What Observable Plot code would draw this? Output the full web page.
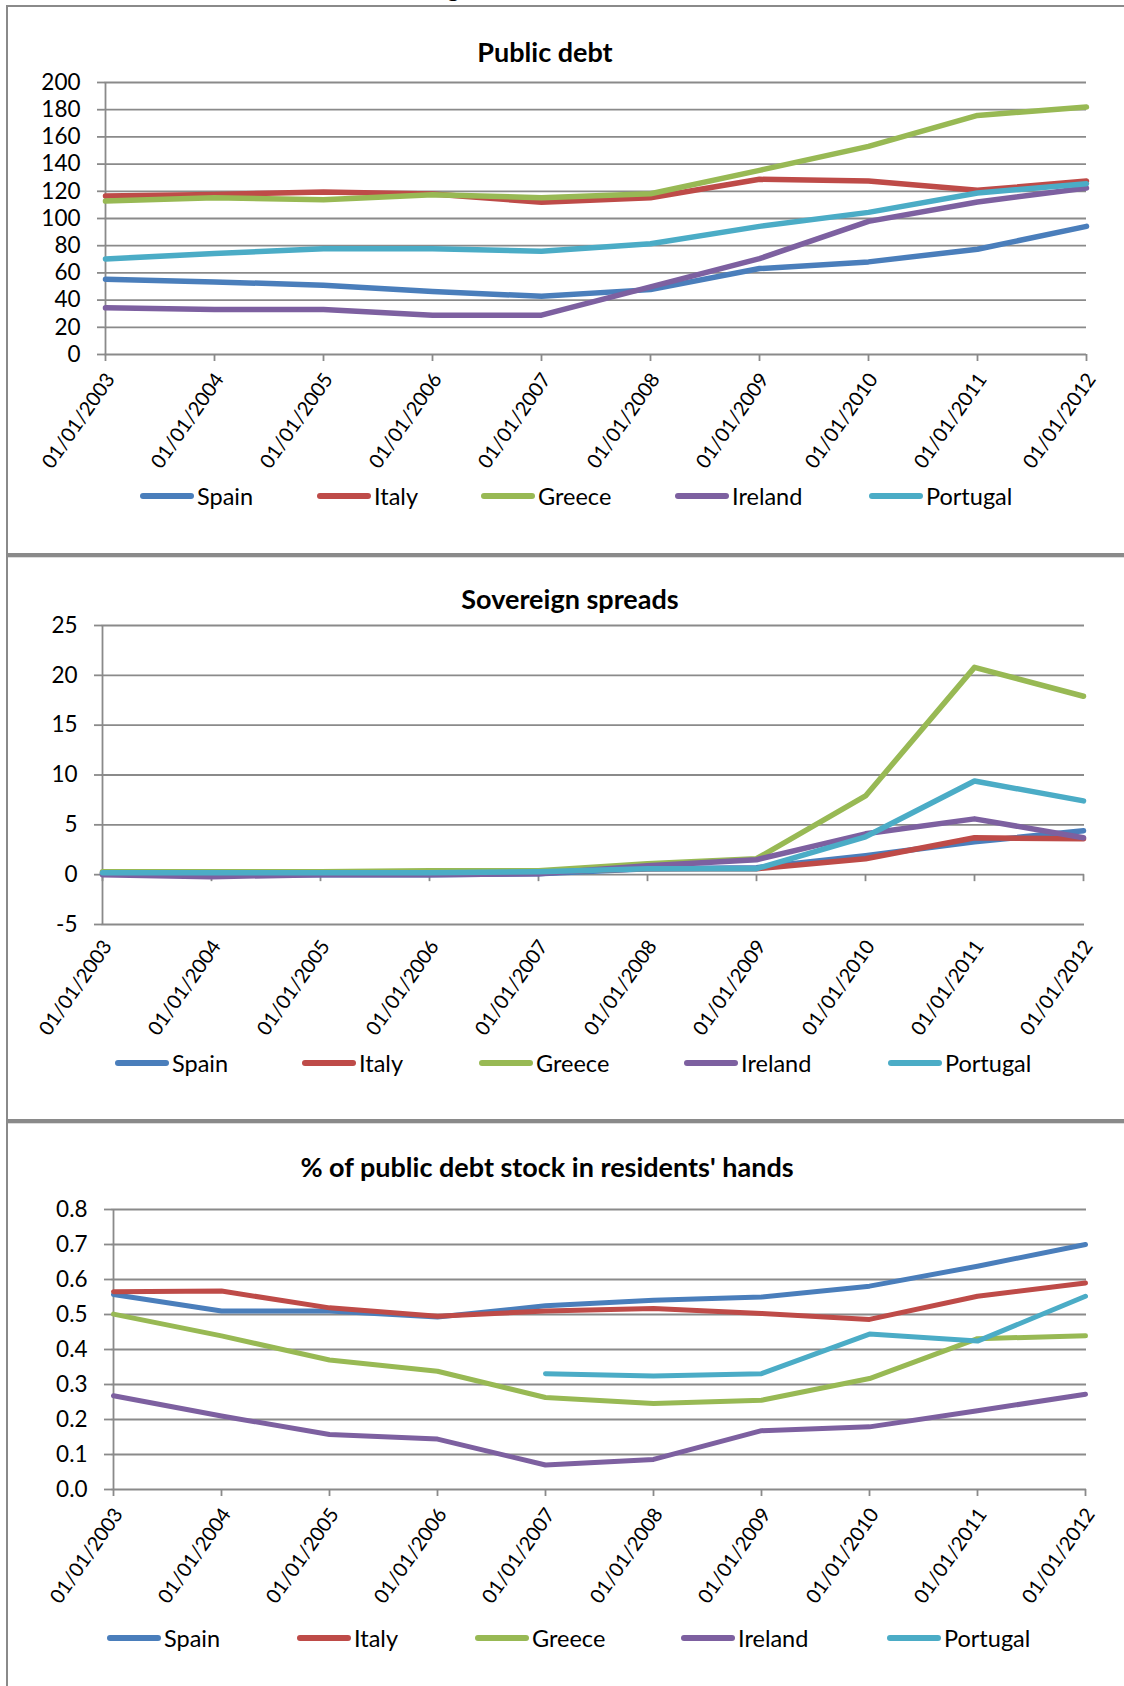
<!DOCTYPE html>
<html><head><meta charset="utf-8">
<script src="https://cdn.jsdelivr.net/npm/d3@7"></script>
<script src="https://cdn.jsdelivr.net/npm/@observablehq/plot@0.6"></script>
<style>
html,body{margin:0;padding:0;background:#fff;overflow:hidden;}
#page{position:relative;width:1124px;height:1686px;font-family:Lato,"Open Sans",sans-serif;overflow:hidden;}
.title{position:absolute;transform:translate(-50%,-50%);font-weight:700;font-size:27px;white-space:nowrap;color:#000;}
.legend-item{position:absolute;display:flex;align-items:center;transform:translateY(-50%);font-size:23.5px;color:#000;white-space:nowrap;}
.swatch{display:inline-block;width:54px;height:6px;border-radius:3px;margin-right:3px;}
.bar{position:absolute;background:#8a8a8a;}
.bar2{position:absolute;background:#dcdcdc;}
svg{position:absolute;left:0;}
</style></head><body><div id="page"></div>
<script>
const dates = ["01/01/2003","01/01/2004","01/01/2005","01/01/2006","01/01/2007","01/01/2008","01/01/2009","01/01/2010","01/01/2011","01/01/2012"];
const countries = ["Spain","Italy","Greece","Ireland","Portugal"];
const colors = ["#4A7EBB","#BE4B48","#98B954","#7D60A0","#4BACC6"];

// Public debt
const spainDebt    = [55.3, 53.4, 50.9, 46.3, 42.8, 47.7, 63.2, 68.1, 77.4, 94.2];
const italyDebt    = [116.5, 117.7, 119.5, 118.0, 112.0, 115.3, 128.8, 127.5, 120.7, 127.5];
const greeceDebt   = [112.8, 115.3, 113.8, 117.5, 115.3, 118.2, 135.4, 153.0, 175.8, 181.9];
const irelandDebt  = [34.3, 33.0, 33.0, 28.9, 28.9, 49.7, 70.5, 97.9, 112.1, 122.4];
const portugalDebt = [70.3, 74.2, 77.8, 77.8, 75.9, 81.5, 94.2, 104.5, 118.7, 125.6];
const debtTicks = [0,20,40,60,80,100,120,140,160,180,200];

// Sovereign spreads
const spainSpread    = [0.1, 0.0, 0.0, 0.0, 0.1, 0.6, 0.7, 1.9, 3.3, 4.4];
const italySpread    = [0.2, 0.2, 0.2, 0.2, 0.3, 0.6, 0.6, 1.6, 3.7, 3.6];
const greeceSpread   = [0.3, 0.3, 0.3, 0.4, 0.4, 1.1, 1.6, 7.9, 20.8, 17.9];
const irelandSpread  = [0.0, -0.2, 0.0, 0.0, 0.1, 0.9, 1.5, 4.1, 5.6, 3.7];
const portugalSpread = [0.2, 0.2, 0.2, 0.2, 0.3, 0.6, 0.6, 3.8, 9.4, 7.4];
const spreadTicks = [-5,0,5,10,15,20,25];

// % of public debt stock in residents' hands
const spainRes    = [0.557, 0.510, 0.510, 0.493, 0.525, 0.541, 0.550, 0.581, 0.638, 0.700];
const italyRes    = [0.565, 0.567, 0.519, 0.495, 0.510, 0.517, 0.503, 0.486, 0.552, 0.590];
const greeceRes   = [0.501, 0.439, 0.370, 0.338, 0.263, 0.246, 0.255, 0.317, 0.431, 0.439];
const irelandRes  = [0.268, 0.210, 0.157, 0.144, 0.070, 0.086, 0.168, 0.179, 0.225, 0.272];
const portugalRes = [null, null, null, null, 0.331, 0.324, 0.331, 0.444, 0.424, 0.552];
const resTicks = [0,0.1,0.2,0.3,0.4,0.5,0.6,0.7,0.8];

const page = document.getElementById("page");
const GRID = "#8a8a8a";
const intFmt = d => String(d);
const decFmt = d => d.toFixed(1);

function addDiv(cls, style, text) {
  const d = document.createElement("div");
  d.className = cls;
  Object.assign(d.style, style);
  if (text != null) d.textContent = text;
  page.appendChild(d);
  return d;
}

function panel(cfg) {
  const data = [];
  cfg.series.forEach((vals, i) => vals.forEach((v, j) => data.push({country: countries[i], date: dates[j], value: v})));
  const yMin = cfg.ticks[0];
  const marks = [
    Plot.ruleY(cfg.ticks, {stroke: GRID, strokeWidth: 1.8}),
    Plot.ruleX([dates[0]], {stroke: GRID, strokeWidth: 1.8}),
    Plot.axisY({ticks: cfg.ticks, tickFormat: cfg.format, tickSize: 7, tickPadding: cfg.yPad, fontSize: 22.5,
                stroke: GRID, strokeWidth: 1.8, fill: "#000", label: null}),
    // category tick marks hanging below the category axis line (at y = tickBase)
    Plot.ruleX(dates, {y1: cfg.tickBase, y2: cfg.tickBase, insetBottom: -7, stroke: GRID, strokeWidth: 1.8}),
    Plot.axisX({ticks: dates, tickSize: 0, tickPadding: cfg.xPad, tickRotate: -55, fontSize: 20,
                dx: 5, fill: "#000", label: null}),
    Plot.line(data, {x: "date", y: "value", z: "country", stroke: "country",
              strokeWidth: cfg.lw, strokeLinejoin: "round", strokeLinecap: "round"})
  ];
  const svg = Plot.plot({
    width: 1124, height: cfg.height,
    marginLeft: cfg.ml, marginRight: cfg.mr, marginTop: cfg.mt, marginBottom: cfg.mb,
    style: {fontFamily: "Lato, 'Open Sans', sans-serif", background: "transparent", overflow: "visible"},
    x: {type: "point", domain: dates, padding: 0},
    y: {domain: [yMin, cfg.ticks[cfg.ticks.length - 1]]},
    color: {domain: countries, range: colors},
    marks
  });
  svg.style.top = cfg.top + "px";
  page.appendChild(svg);
  addDiv("title", {left: cfg.titleX + "px", top: cfg.titleY + "px"}, cfg.title);
  countries.forEach((c, i) => {
    const it = addDiv("legend-item", {left: cfg.legendX[i] + "px", top: cfg.legendY + "px"});
    const sw = document.createElement("span");
    sw.className = "swatch";
    sw.style.background = colors[i];
    it.appendChild(sw);
    it.appendChild(document.createTextNode(c));
  });
}

// frame
addDiv("", {position: "absolute", left: "447px", top: "-24px", fontSize: "24px", lineHeight: "24px", fontWeight: "700"}, "g");
addDiv("bar", {left: "6px", top: "5px", width: "1118px", height: "2px"});
addDiv("bar", {left: "6px", top: "5px", width: "2px", height: "1681px"});
addDiv("bar", {left: "6px", top: "553px", width: "1118px", height: "4px"});
addDiv("bar2", {left: "8px", top: "557px", width: "1116px", height: "1px"});
addDiv("bar", {left: "6px", top: "1119px", width: "1118px", height: "4px"});
addDiv("bar2", {left: "8px", top: "1123px", width: "1116px", height: "1px"});

panel({
  series: [spainDebt, italyDebt, greeceDebt, irelandDebt, portugalDebt],
  ticks: debtTicks, format: intFmt, tickBase: 0,
  top: 0, height: 556, ml: 104, mr: 38, mt: 82, mb: 202, yPad: 17, xPad: 21, lw: 5.5,
  title: "Public debt", titleX: 545, titleY: 51,
  legendX: [140, 317, 481, 675, 869], legendY: 496
});
panel({
  series: [spainSpread, italySpread, greeceSpread, irelandSpread, portugalSpread],
  ticks: spreadTicks, format: intFmt, tickBase: 0,
  top: 556, height: 566, ml: 101, mr: 40, mt: 69, mb: 198, yPad: 17, xPad: 18, lw: 5.5,
  title: "Sovereign spreads", titleX: 570, titleY: 598,
  legendX: [115, 302, 479, 684, 888], legendY: 1063
});
panel({
  series: [spainRes, italyRes, greeceRes, irelandRes, portugalRes],
  ticks: resTicks, format: decFmt, tickBase: 0,
  top: 1122, height: 564, ml: 111, mr: 38, mt: 87, mb: 197, yPad: 17, xPad: 21, lw: 5,
  title: "% of public debt stock in residents' hands", titleX: 547, titleY: 1166,
  legendX: [107, 297, 475, 681, 887], legendY: 1638
});
</script></body></html>
